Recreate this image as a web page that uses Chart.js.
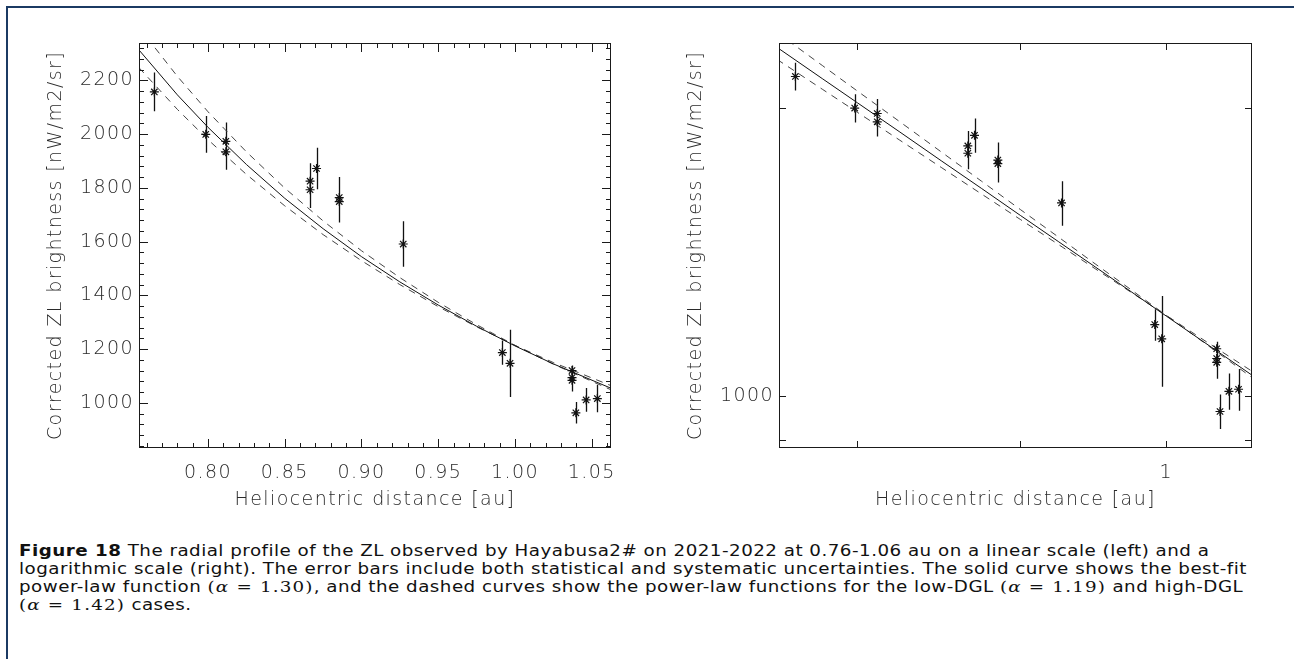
<!DOCTYPE html>
<html>
<head>
<meta charset="utf-8">
<script src="https://cdn.jsdelivr.net/npm/chart.js@4.4.0/dist/chart.umd.min.js"></script>
<style>
body{margin:0;width:1294px;height:659px;background:#fff;position:relative;overflow:hidden}
#marcoFig{position:absolute;left:6px;top:6px;width:1400px;height:800px;border-left:2px solid #1b3a63;border-top:2px solid #1b3a63}
#izq{position:absolute;left:0;top:0}
#der{position:absolute;left:640px;top:0}
#caption{position:absolute;left:19px;top:542px;font-family:'DejaVu Sans';font-size:15.5px;letter-spacing:0.4px;line-height:18px;color:#111;white-space:nowrap;transform:scaleX(1.18);transform-origin:0 0}
#caption .m{font-family:'DejaVu Serif';font-size:15.5px;letter-spacing:1px}
</style>
</head>
<body>
<div id="marcoFig"></div>
<canvas id="izq" width="640" height="520"></canvas>
<canvas id="der" width="654" height="520"></canvas>
<div id="caption">
<div><b>Figure 18</b> The radial profile of the ZL observed by Hayabusa2# on 2021-2022 at 0.76-1.06 au on a linear scale (left) and a</div>
<div>logarithmic scale (right). The error bars include both statistical and systematic uncertainties. The solid curve shows the best-fit</div>
<div>power-law function <span class="m">(<i>α</i> = 1.30)</span>, and the dashed curves show the power-law functions for the low-DGL <span class="m">(<i>α</i> = 1.19)</span> and high-DGL</div>
<div><span class="m">(<i>α</i> = 1.42)</span> cases.</div>
</div>
<script>
//Datos: distancia heliocentrica (au), brillo ZL corregido y su error (nW/m2/sr)
const distancia = [0.765, 0.7985, 0.8116, 0.8116, 0.8665, 0.8665, 0.8707, 0.8855, 0.8855, 0.9272, 0.9918, 0.9968, 1.0372, 1.0372, 1.0372, 1.0397, 1.0464, 1.0537]
const brillo = [2157, 1999, 1973, 1934, 1825, 1793, 1872, 1764, 1749, 1591, 1187, 1147, 1120, 1094, 1084, 963, 1011, 1016]
const error = [72, 68, 70, 67, 67, 68, 77, 76, 78, 85, 45, 125, 15, 45, 42, 40, 44, 51]

//Curvas de ley de potencia
const rCurva = [0.755, 0.78, 0.80, 0.825, 0.85, 0.875, 0.90, 0.925, 0.95, 0.975, 1.00, 1.025, 1.064]
const ajuste = [2313, 2146, 2025, 1887, 1761, 1648, 1544, 1450, 1364, 1285, 1212, 1145, 1051]
const dglBajo = [2247, 2092, 1979, 1850, 1733, 1626, 1529, 1440, 1358, 1283, 1214, 1150, 1061]
const dglAlto = [2397, 2215, 2083, 1934, 1799, 1677, 1566, 1466, 1374, 1291, 1214, 1144, 1045]

//Ticks
const ticksX = [0.80, 0.85, 0.90, 0.95, 1.00, 1.05]
const ticksY = [1000, 1200, 1400, 1600, 1800, 2000, 2200]
const ticksXlog = [0.8, 0.9, 1]
const ticksYlog = [900, 1000, 2000]
const etiquetaXlog = [1]
const etiquetaYlog = [1000]

const fuente = {family: "'DejaVu Sans'", size: 19, weight: 200}
const colorTexto = '#2a2a2a'
const tituloX = 'Heliocentric distance [au]'
const tituloY = 'Corrected ZL brightness [nW/m2/sr]'

//ticks menores cada 1/5 del paso mayor
function menores(mayores, min, max) {
    let paso = (mayores[1] - mayores[0]) / 5
    let lista = []
    let v = mayores[0]
    while (v - paso >= min) v -= paso
    for (; v <= max; v += paso) lista.push(v)
    return lista
}

//texto un poco mas espaciado, como en la figura original
const espaciado = {
    id: 'espaciado',
    beforeDraw(chart) { chart.ctx.letterSpacing = '1.4px' }
}

//caja y ticks hacia adentro (estilo IDL)
const caja = {
    id: 'caja',
    afterDatasetsDraw(chart, args, o) {
        const {ctx, chartArea: a, scales: {x, y}} = chart
        ctx.save()
        ctx.strokeStyle = '#1a1a1a'
        ctx.lineWidth = 1
        ctx.strokeRect(Math.round(a.left) + 0.5, Math.round(a.top) + 0.5, Math.round(a.width) - 1, Math.round(a.height) - 1)
        ctx.beginPath()
        const tickX = (v, l) => {
            if (v < x.min || v > x.max) return
            let p = Math.round(x.getPixelForValue(v)) + 0.5
            ctx.moveTo(p, a.bottom); ctx.lineTo(p, a.bottom - l)
            ctx.moveTo(p, a.top); ctx.lineTo(p, a.top + l)
        }
        const tickY = (v, l) => {
            if (v < y.min || v > y.max) return
            let p = Math.round(y.getPixelForValue(v)) + 0.5
            ctx.moveTo(a.left, p); ctx.lineTo(a.left + l, p)
            ctx.moveTo(a.right, p); ctx.lineTo(a.right - l, p)
        }
        o.xMayor.forEach(v => tickX(v, o.largo))
        o.xMenor.forEach(v => tickX(v, o.corto))
        o.yMayor.forEach(v => tickY(v, o.largo))
        o.yMenor.forEach(v => tickY(v, o.corto))
        ctx.stroke()
        ctx.restore()
    }
}

//barras de error verticales
const barras = {
    id: 'barras',
    beforeDatasetsDraw(chart) {
        const {ctx, chartArea: a, scales: {x, y}} = chart
        ctx.save()
        ctx.beginPath()
        ctx.rect(a.left, a.top, a.width, a.height)
        ctx.clip()
        ctx.strokeStyle = '#111'
        ctx.lineWidth = 1.3
        ctx.beginPath()
        distancia.forEach((d, i) => {
            let px = Math.round(x.getPixelForValue(d)) + 0.5
            ctx.moveTo(px, y.getPixelForValue(brillo[i] - error[i]))
            ctx.lineTo(px, y.getPixelForValue(brillo[i] + error[i]))
        })
        ctx.stroke()
        ctx.restore()
    }
}

function datasets() {
    const curva = (valores, dash, color) => ({
        type: 'line',
        data: rCurva.map((r, i) => ({x: r, y: valores[i]})),
        borderColor: color,
        borderWidth: 1,
        borderDash: dash,
        pointRadius: 0,
        fill: false
    })
    return [
        {
            type: 'scatter',
            data: distancia.map((d, i) => ({x: d, y: brillo[i]})),
            pointStyle: 'star',
            pointRadius: 4.5,
            borderColor: '#111',
            borderWidth: 1.2,
            backgroundColor: '#111'
        },
        curva(ajuste, [], '#111'),
        curva(dglBajo, [7, 6], '#444'),
        curva(dglAlto, [7, 6], '#444')
    ]
}

function ejes(tipo, xmin, xmax, ymin, ymax, etiquetasX, etiquetasY, formatoX) {
    return {
        x: {
            type: tipo, min: xmin, max: xmax,
            afterBuildTicks: s => { s.ticks = etiquetasX.map(v => ({value: v})) },
            afterFit: s => { s.height = 72 },
            grid: {display: false, drawTicks: false},
            border: {display: false},
            ticks: {font: fuente, color: colorTexto, padding: 14, autoSkip: false, maxRotation: 0, callback: formatoX},
            title: {display: true, text: tituloX, font: fuente, color: colorTexto, padding: {bottom: 9}}
        },
        y: {
            type: tipo, min: ymin, max: ymax,
            afterBuildTicks: s => { s.ticks = etiquetasY.map(v => ({value: v})) },
            afterFit: s => { s.width = 139 },
            grid: {display: false, drawTicks: false},
            border: {display: false},
            ticks: {font: fuente, color: colorTexto, padding: 5, autoSkip: false, callback: v => String(v)},
            title: {display: true, text: tituloY, font: fuente, color: colorTexto, padding: {top: 45}}
        }
    }
}

const opcionesBase = {
    responsive: false,
    animation: false,
    devicePixelRatio: 1,
    events: [],
    plugins: {legend: {display: false}, tooltip: {enabled: false}}
}

//Grafico lineal
const graficoLineal = new Chart(document.getElementById('izq').getContext('2d'), {
    type: 'scatter',
    data: {datasets: datasets()},
    options: {
        ...opcionesBase,
        layout: {padding: {top: 43, right: 29, left: 0, bottom: 0}},
        scales: ejes('linear', 0.755, 1.0626, 832, 2339, ticksX, ticksY, v => v.toFixed(2)),
        plugins: {
            ...opcionesBase.plugins,
            caja: {
                largo: 9, corto: 5,
                xMayor: ticksX, xMenor: menores(ticksX, 0.755, 1.0626),
                yMayor: ticksY, yMenor: menores(ticksY, 832, 2339)
            }
        }
    },
    plugins: [espaciado, barras, caja]
})

//Grafico logaritmico
const graficoLog = new Chart(document.getElementById('der').getContext('2d'), {
    type: 'scatter',
    data: {datasets: datasets()},
    options: {
        ...opcionesBase,
        layout: {padding: {top: 43, right: 42, left: 0, bottom: 0}},
        scales: ejes('logarithmic', 0.756, 1.064, 882, 2338, etiquetaXlog, etiquetaYlog, v => String(v)),
        plugins: {
            ...opcionesBase.plugins,
            caja: {
                largo: 7, corto: 7,
                xMayor: ticksXlog, xMenor: [],
                yMayor: ticksYlog, yMenor: []
            }
        }
    },
    plugins: [espaciado, barras, caja]
})
</script>
</body>
</html>
